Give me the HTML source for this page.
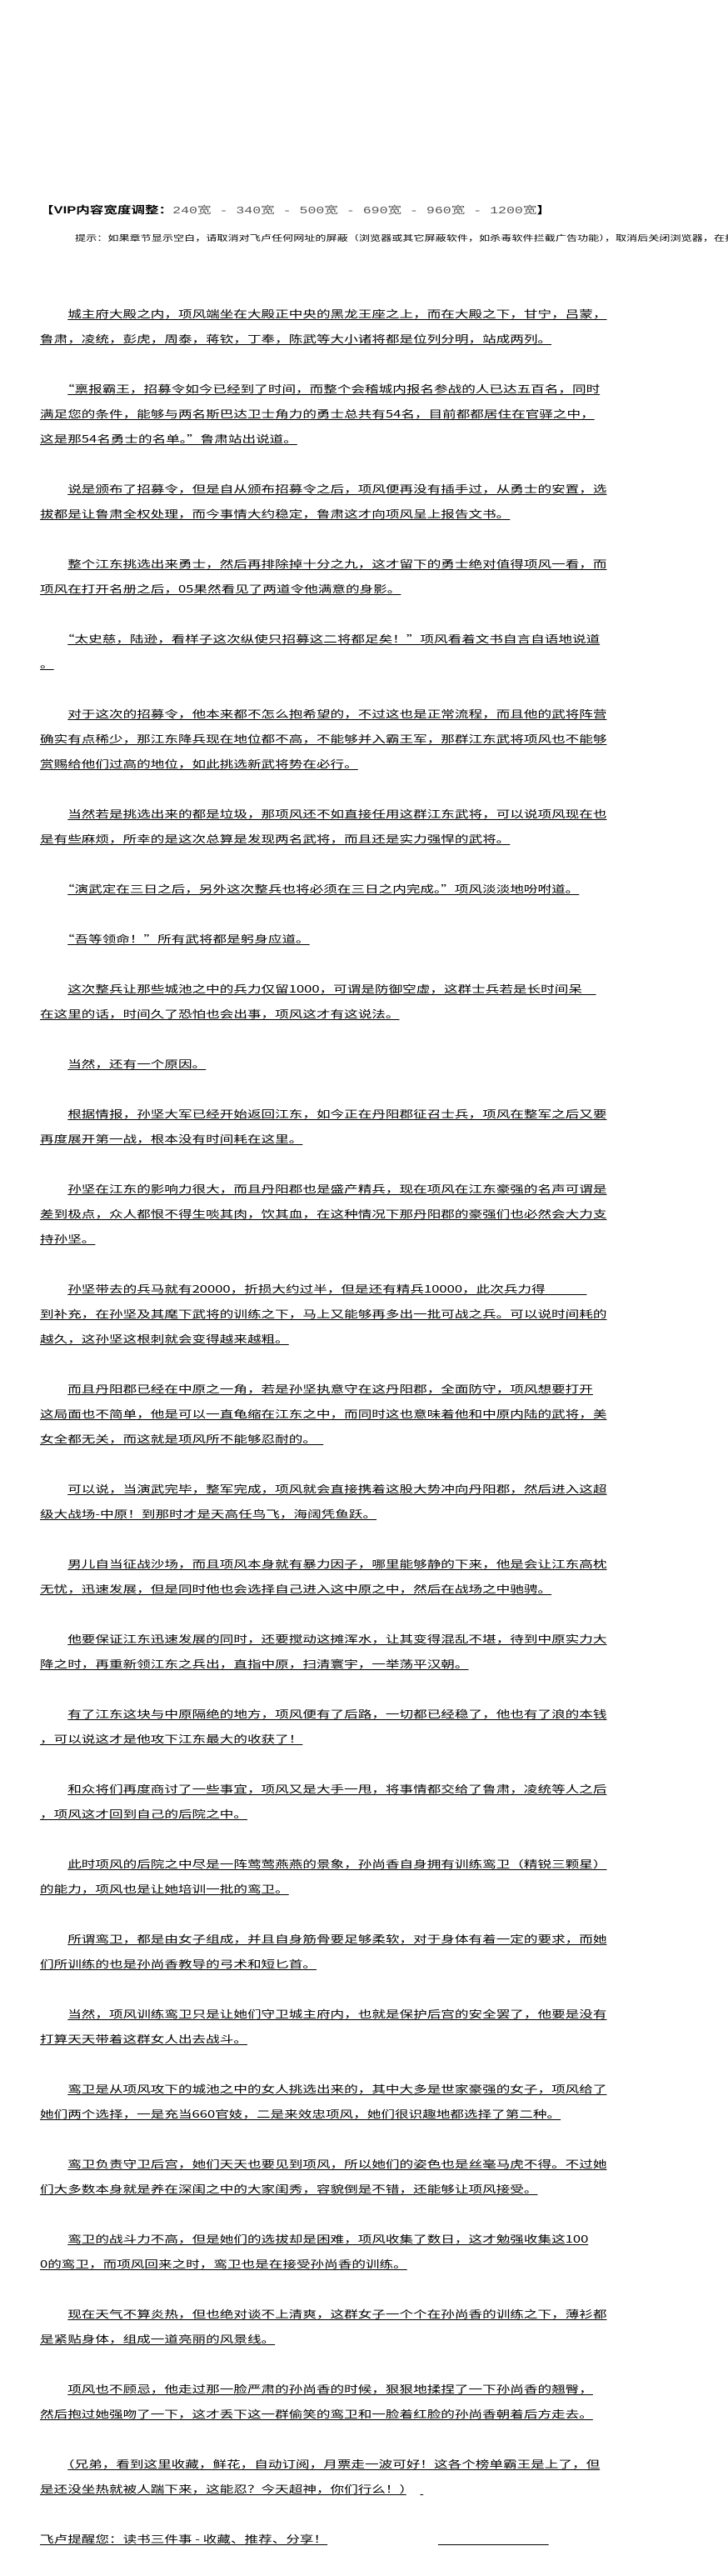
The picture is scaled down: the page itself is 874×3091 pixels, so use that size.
<!DOCTYPE html>
<html><head><meta charset="utf-8"><style>
html,body{margin:0;padding:0;background:#fff;}
body{width:874px;height:3091px;position:relative;overflow:hidden;font-family:"Liberation Sans","Noto Sans CJK SC","WenQuanYi Zen Hei",sans-serif;color:#000;}
.hdr{position:absolute;left:48px;top:243px;font-size:12px;line-height:18px;white-space:nowrap;transform:scaleX(1.38);transform-origin:0 0;}
.hdr b{font-weight:bold;color:#000;}
.hdr span{color:#555;font-family:"Liberation Mono","Noto Sans CJK SC",monospace;}
.tipwrap{position:absolute;left:90px;top:281px;width:784px;height:14px;overflow:hidden;}
.tip{font-size:9.5px;line-height:12px;white-space:nowrap;transform:scaleX(1.38);transform-origin:0 0;}
.txt{position:absolute;left:48px;top:362px;width:500px;font-size:12px;line-height:30px;white-space:nowrap;transform:scaleX(1.383);transform-origin:0 0;font-family:"Noto Sans CJK SC","WenQuanYi Zen Hei",sans-serif;}
.txt u{text-decoration:underline;text-underline-offset:2px;}
</style></head><body>
<div class="hdr"><b>【VIP内容宽度调整：</b><span>240宽 - 340宽 - 500宽 - 690宽 - 960宽 - 1200宽</span><b>】</b></div>
<div class="tipwrap"><div class="tip">提示：如果章节显示空白，请取消对飞卢任何网址的屏蔽（浏览器或其它屏蔽软件，如杀毒软件拦截广告功能），取消后关闭浏览器，在打开即可正常显示</div></div>
<div class="txt">
　　<u>城主府大殿之内，项风端坐在大殿正中央的黑龙王座之上，而在大殿之下，甘宁，吕蒙，</u><br>
<u>鲁肃，凌统，彭虎，周泰，蒋钦，丁奉，陈武等大小诸将都是位列分明，站成两列。</u><br>
<br>
　　<u>“禀报霸王，招募令如今已经到了时间，而整个会稽城内报名参战的人已达五百名，同时</u><br>
<u>满足您的条件，能够与两名斯巴达卫士角力的勇士总共有54名，目前都都居住在官驿之中，</u><br>
<u>这是那54名勇士的名单。”鲁肃站出说道。</u><br>
<br>
　　<u>说是颁布了招募令，但是自从颁布招募令之后，项风便再没有插手过，从勇士的安置，选</u><br>
<u>拔都是让鲁肃全权处理，而今事情大约稳定，鲁肃这才向项风呈上报告文书。</u><br>
<br>
　　<u>整个江东挑选出来勇士，然后再排除掉十分之九，这才留下的勇士绝对值得项风一看，而</u><br>
<u>项风在打开名册之后，05果然看见了两道令他满意的身影。</u><br>
<br>
　　<u>“太史慈，陆逊，看样子这次纵使只招募这二将都足矣！”项风看着文书自言自语地说道</u><br>
<u>。</u><br>
<br>
　　<u>对于这次的招募令，他本来都不怎么抱希望的，不过这也是正常流程，而且他的武将阵营</u><br>
<u>确实有点稀少，那江东降兵现在地位都不高，不能够并入霸王军，那群江东武将项风也不能够</u><br>
<u>赏赐给他们过高的地位，如此挑选新武将势在必行。</u><br>
<br>
　　<u>当然若是挑选出来的都是垃圾，那项风还不如直接任用这群江东武将，可以说项风现在也</u><br>
<u>是有些麻烦，所幸的是这次总算是发现两名武将，而且还是实力强悍的武将。</u><br>
<br>
　　<u>“演武定在三日之后，另外这次整兵也将必须在三日之内完成。”项风淡淡地吩咐道。</u><br>
<br>
　　<u>“吾等领命！”所有武将都是躬身应道。</u><br>
<br>
　　<u>这次整兵让那些城池之中的兵力仅留1000，可谓是防御空虚，这群士兵若是长时间呆　</u><br>
<u>在这里的话，时间久了恐怕也会出事，项风这才有这说法。</u><br>
<br>
　　<u>当然，还有一个原因。</u><br>
<br>
　　<u>根据情报，孙坚大军已经开始返回江东，如今正在丹阳郡征召士兵，项风在整军之后又要</u><br>
<u>再度展开第一战，根本没有时间耗在这里。</u><br>
<br>
　　<u>孙坚在江东的影响力很大，而且丹阳郡也是盛产精兵，现在项风在江东豪强的名声可谓是</u><br>
<u>差到极点，众人都恨不得生啖其肉，饮其血，在这种情况下那丹阳郡的豪强们也必然会大力支</u><br>
<u>持孙坚。</u><br>
<br>
　　<u>孙坚带去的兵马就有20000，折损大约过半，但是还有精兵10000，此次兵力得　　　</u><br>
<u>到补充，在孙坚及其麾下武将的训练之下，马上又能够再多出一批可战之兵。可以说时间耗的</u><br>
<u>越久，这孙坚这根刺就会变得越来越粗。</u><br>
<br>
　　<u>而且丹阳郡已经在中原之一角，若是孙坚执意守在这丹阳郡，全面防守，项风想要打开</u><br>
<u>这局面也不简单，他是可以一直龟缩在江东之中，而同时这也意味着他和中原内陆的武将，美</u><br>
<u>女全都无关，而这就是项风所不能够忍耐的。　</u><br>
<br>
　　<u>可以说，当演武完毕，整军完成，项风就会直接携着这股大势冲向丹阳郡，然后进入这超</u><br>
<u>级大战场-中原！到那时才是天高任鸟飞，海阔凭鱼跃。</u><br>
<br>
　　<u>男儿自当征战沙场，而且项风本身就有暴力因子，哪里能够静的下来，他是会让江东高枕</u><br>
<u>无忧，迅速发展，但是同时他也会选择自己进入这中原之中，然后在战场之中驰骋。</u><br>
<br>
　　<u>他要保证江东迅速发展的同时，还要搅动这摊浑水，让其变得混乱不堪，待到中原实力大</u><br>
<u>降之时，再重新领江东之兵出，直指中原，扫清寰宇，一举荡平汉朝。</u><br>
<br>
　　<u>有了江东这块与中原隔绝的地方，项风便有了后路，一切都已经稳了，他也有了浪的本钱</u><br>
<u>，可以说这才是他攻下江东最大的收获了！</u><br>
<br>
　　<u>和众将们再度商讨了一些事宜，项风又是大手一甩，将事情都交给了鲁肃，凌统等人之后</u><br>
<u>，项风这才回到自己的后院之中。</u><br>
<br>
　　<u>此时项风的后院之中尽是一阵莺莺燕燕的景象，孙尚香自身拥有训练鸾卫（精锐三颗星）</u><br>
<u>的能力，项风也是让她培训一批的鸾卫。</u><br>
<br>
　　<u>所谓鸾卫，都是由女子组成，并且自身筋骨要足够柔软，对于身体有着一定的要求，而她</u><br>
<u>们所训练的也是孙尚香教导的弓术和短匕首。</u><br>
<br>
　　<u>当然，项风训练鸾卫只是让她们守卫城主府内，也就是保护后宫的安全罢了，他要是没有</u><br>
<u>打算天天带着这群女人出去战斗。</u><br>
<br>
　　<u>鸾卫是从项风攻下的城池之中的女人挑选出来的，其中大多是世家豪强的女子，项风给了</u><br>
<u>她们两个选择，一是充当660官妓，二是来效忠项风，她们很识趣地都选择了第二种。</u><br>
<br>
　　<u>鸾卫负责守卫后宫，她们天天也要见到项风，所以她们的姿色也是丝毫马虎不得。不过她</u><br>
<u>们大多数本身就是养在深闺之中的大家闺秀，容貌倒是不错，还能够让项风接受。</u><br>
<br>
　　<u>鸾卫的战斗力不高，但是她们的选拔却是困难，项风收集了数日，这才勉强收集这100</u><br>
<u>0的鸾卫，而项风回来之时，鸾卫也是在接受孙尚香的训练。</u><br>
<br>
　　<u>现在天气不算炎热，但也绝对谈不上清爽，这群女子一个个在孙尚香的训练之下，薄衫都</u><br>
<u>是紧贴身体，组成一道亮丽的风景线。</u><br>
<br>
　　<u>项风也不顾忌，他走过那一脸严肃的孙尚香的时候，狠狠地揉捏了一下孙尚香的翘臀，</u><br>
<u>然后抱过她强吻了一下，这才丢下这一群偷笑的鸾卫和一脸着红脸的孙尚香朝着后方走去。</u><br>
<br>
　　<u>（兄弟，看到这里收藏，鲜花，自动订阅，月票走一波可好！这各个榜单霸王是上了，但</u><br>
<u>是还没坐热就被人踹下来，这能忍？今天超神，你们行么！）</u>　<u>&nbsp;</u><br>
<br>
<u>飞卢提醒您：读书三件事 - 收藏、推荐、分享！</u>　　　　　　　　<u>　　　　　　　　</u><br>
</div>
</body></html>
